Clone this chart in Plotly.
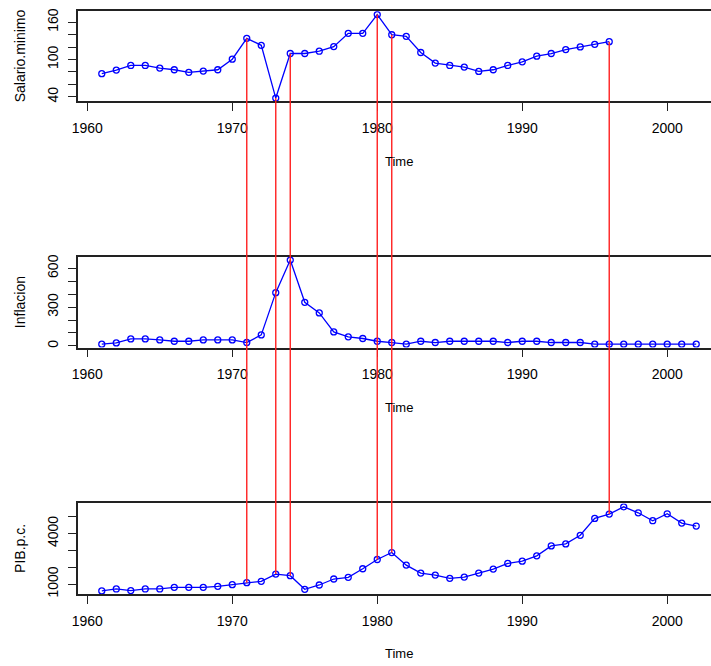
import plotly.graph_objects as go

# ---------------- data ----------------
years_sal = list(range(1961, 1997))
salario = [77.2, 83, 90.4, 90.4, 86.2, 83.5, 79.3, 81.4, 83.5, 100.5,
           134, 122.8, 38, 109.6, 109.6, 113.3, 120.7, 142, 142, 172.2,
           139.8, 137.2, 111.2, 94.2, 90.4, 87.8, 80.9, 83.5, 90.4, 96.3,
           105.3, 109.6, 115.9, 120.2, 124.4, 128.7]

years = list(range(1961, 2003))
inflacion = [13, 23, 54, 54, 46, 36, 36, 46, 46, 46,
             26, 85, 412, 664, 337, 255, 108, 70, 57, 36,
             26, 13, 36, 26, 36, 36, 36, 36, 26, 36,
             36, 26, 26, 26, 13, 13, 13, 13, 13, 13,
             13, 13]
pib = [586, 704, 606, 704, 704, 803, 803, 803, 862, 961,
       1079, 1158, 1591, 1493, 685, 941, 1296, 1394, 1906, 2458,
       2872, 2123, 1650, 1532, 1335, 1414, 1650, 1887, 2222, 2360,
       2675, 3266, 3384, 3897, 4901, 5158, 5591, 5236, 4764, 5177,
       4626, 4448]

marked_years = [1971, 1973, 1974, 1980, 1981, 1996]

ylabels = ["Salario.minimo", "Inflacion", "PIB.p.c."]
sal_ticks = [40, 60, 80, 100, 120, 140, 160]
sal_text = ["40", "", "", "100", "", "", "160"]
inf_ticks = [0, 100, 200, 300, 400, 500, 600]
inf_text = ["0", "", "", "300", "", "", "600"]
pib_ticks = [1000, 2000, 3000, 4000, 5000]
pib_text = ["1000", "", "", "4000", ""]
xticks = [1960, 1970, 1980, 1990, 2000]

# ---------------- layout helpers ----------------
W, H = 711, 666
ML = 78
FONT = "Liberation Sans, Arial, sans-serif"


def rrange(vals):
    lo, hi = min(vals), max(vals)
    d = hi - lo
    return [lo - 0.04 * d, hi + 0.04 * d]


xr = rrange(years)
# the R panel extends beyond the window; show only the visible part
full_w = 642.0
vis_w = W - ML
x_range = [xr[0], xr[0] + (xr[1] - xr[0]) * vis_w / full_w]

def dom(top_px, bot_px):
    return [1 - bot_px / H, 1 - top_px / H]

domains = [dom(8.3, 99.3), dom(256, 347.7), dom(505, 596.7)]
yranges = [rrange(salario), rrange(inflacion), rrange(pib)]


def to_paper(v, rng, d):
    return d[0] + (v - rng[0]) / (rng[1] - rng[0]) * (d[1] - d[0])


fig = go.Figure()
series = [(years_sal, salario), (years, inflacion), (years, pib)]
for i, (xs, ys) in enumerate(series):
    sfx = "" if i == 0 else str(i + 1)
    fig.add_trace(go.Scatter(
        x=xs, y=ys, mode="lines+markers",
        line=dict(color="#0000FF", width=1.3),
        marker=dict(symbol="circle-open", size=6, color="#0000FF",
                    line=dict(width=1.3, color="#0000FF")),
        xaxis="x" + sfx, yaxis="y" + sfx, showlegend=False,
        hoverinfo="skip"))

ytv = [(sal_ticks, sal_text), (inf_ticks, inf_text), (pib_ticks, pib_text)]
layout = dict(width=W, height=H, margin=dict(l=ML, r=0, t=0, b=0),
              paper_bgcolor="white", plot_bgcolor="white",
              font=dict(family=FONT, size=14, color="black"),
              showlegend=False)
for i in range(3):
    sfx = "" if i == 0 else str(i + 1)
    layout["xaxis" + sfx] = dict(
        domain=[0, 1], range=x_range, anchor="y" + sfx,
        tickmode="array", tickvals=xticks, ticktext=[str(t) for t in xticks],
        ticks="outside", ticklen=8, tickwidth=1.3, tickcolor="#222",
        showline=True, mirror=True, linecolor="#222", linewidth=1.5,
        showgrid=False, zeroline=False, ticklabelstandoff=5,
        tickfont=dict(size=14, family=FONT, color="black"))
    layout["yaxis" + sfx] = dict(
        domain=domains[i], range=yranges[i], anchor="x" + sfx,
        tickmode="array", tickvals=ytv[i][0], ticktext=ytv[i][1],
        ticks="outside", ticklen=8, tickwidth=1.3, tickcolor="#222",
        tickangle=-90,
        showline=True, mirror=False, linecolor="#222", linewidth=1.5,
        showgrid=False, zeroline=False, ticklabelstandoff=5,
        tickfont=dict(size=14, family=FONT, color="black"))
fig.update_layout(**layout)

# axis titles
ann = []
mid_x = (xr[0] + xr[1]) / 2
for i, ypx in enumerate([159.5, 408, 656.5]):
    ann.append(dict(text="Time", x=mid_x, xref="x", y=1 - ypx / H, yref="paper",
                    showarrow=False, xanchor="center", yanchor="middle",
                    font=dict(size=13, family=FONT, color="black")))
for i in range(3):
    d = domains[i]
    ann.append(dict(text=ylabels[i], x=(20 - ML) / vis_w, xref="paper",
                    y=(d[0] + d[1]) / 2, yref="paper", textangle=-90,
                    showarrow=False, xanchor="center", yanchor="middle",
                    font=dict(size=14, family=FONT, color="black")))
fig.update_layout(annotations=ann)

# red connecting lines from Salario.minimo point to PIB.p.c. point
for yr in marked_years:
    s = salario[years_sal.index(yr)]
    p = pib[years.index(yr)]
    fig.add_shape(type="line", xref="x", yref="paper",
                  x0=yr, x1=yr,
                  y0=to_paper(s, yranges[0], domains[0]),
                  y1=to_paper(p, yranges[2], domains[2]),
                  line=dict(color="#FF2020", width=1.4), layer="above")

fig.write_html("out.html")
